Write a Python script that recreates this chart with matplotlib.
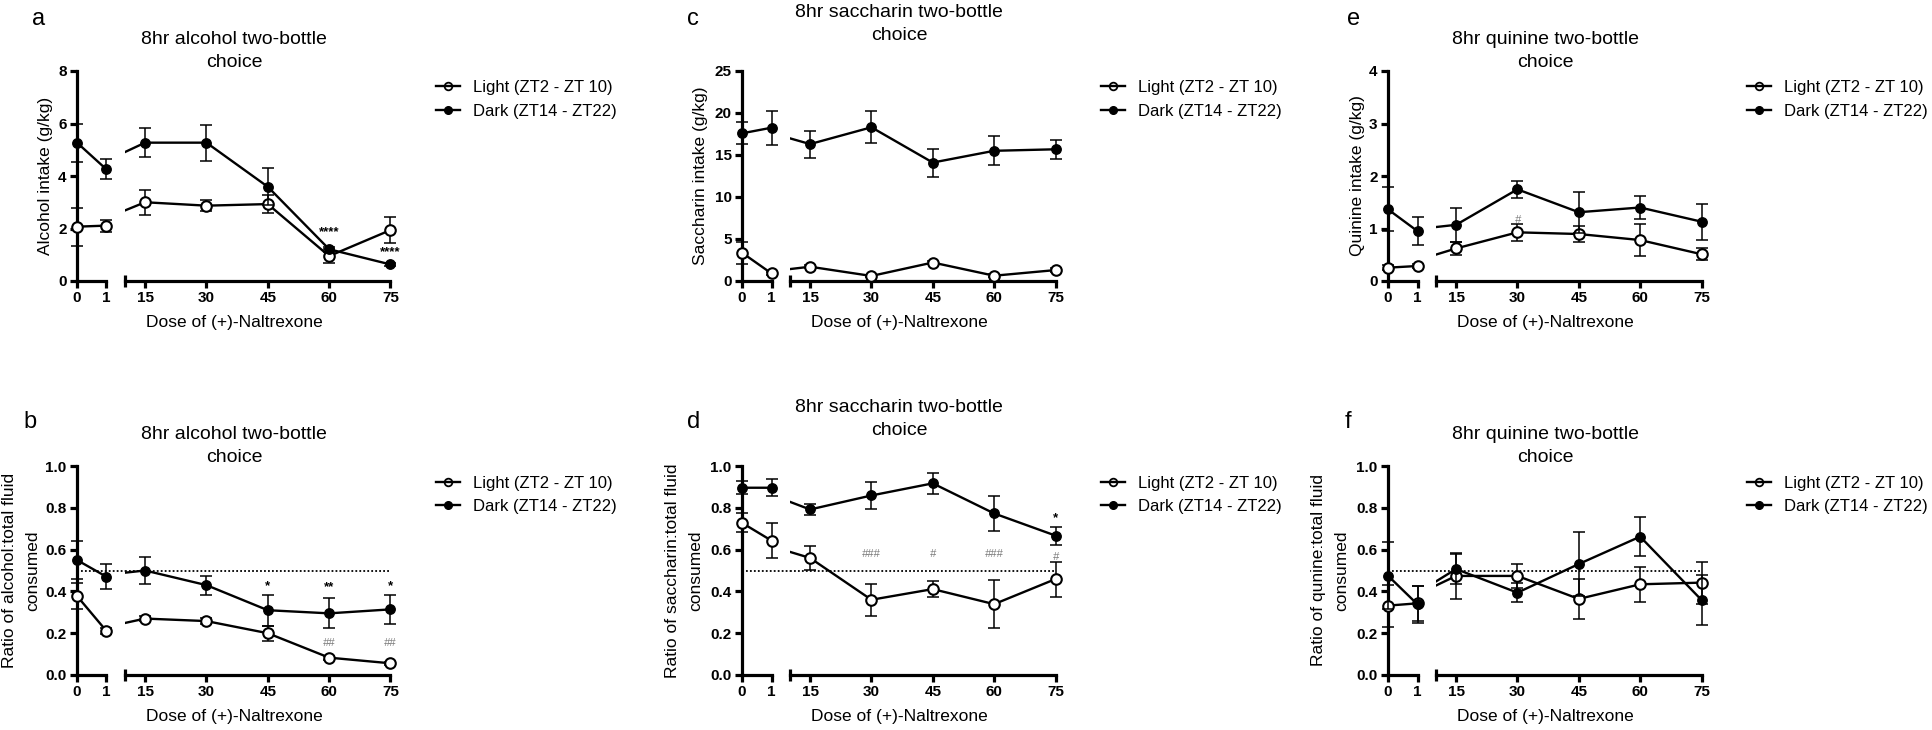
import matplotlib
matplotlib.use('Agg')
import matplotlib.pyplot as plt
from matplotlib.lines import Line2D

plt.rcParams['font.family'] = ['Liberation Sans', 'DejaVu Sans']

W, H = 1932, 730

# ---------------- data ----------------
doses = [0, 1, 15, 30, 45, 60, 75]
dose_labels = ['0', '1', '15', '30', '45', '60', '75']
series_labels = ['Light (ZT2 - ZT 10)', 'Dark (ZT14 - ZT22)']
xlabel_text = 'Dose of (+)-Naltrexone'

# a: alcohol intake (g/kg)
alc_light = [2.07, 2.11, 3.00, 2.87, 2.93, 0.95, 1.94]
alc_light_err = [0.73, 0.23, 0.47, 0.21, 0.35, 0.28, 0.48]
alc_dark = [5.27, 4.25, 5.27, 5.27, 3.59, 1.21, 0.63]
alc_dark_err = [0.73, 0.38, 0.54, 0.68, 0.70, 0.10, 0.05]

# b: ratio alcohol:total fluid
ralc_light = [0.378, 0.21, 0.27, 0.258, 0.20, 0.083, 0.056]
ralc_light_err = [0.06, 0.015, 0.012, 0.015, 0.035, 0.01, 0.008]
ralc_dark = [0.55, 0.47, 0.50, 0.43, 0.31, 0.295, 0.314]
ralc_dark_err = [0.09, 0.06, 0.063, 0.045, 0.075, 0.072, 0.068]

# c: saccharin intake (g/kg)
sac_light = [3.37, 0.9, 1.7, 0.6, 2.2, 0.63, 1.3]
sac_light_err = [1.3, 0.2, 0.2, 0.15, 0.2, 0.15, 0.2]
sac_dark = [17.58, 18.25, 16.3, 18.3, 14.1, 15.5, 15.68]
sac_dark_err = [1.3, 2.0, 1.6, 1.9, 1.67, 1.73, 1.15]

# d: ratio saccharin:total fluid
rsac_light = [0.728, 0.643, 0.56, 0.36, 0.411, 0.339, 0.459]
rsac_light_err = [0.046, 0.082, 0.056, 0.077, 0.038, 0.116, 0.084]
rsac_dark = [0.896, 0.896, 0.792, 0.859, 0.917, 0.773, 0.667]
rsac_dark_err = [0.03, 0.04, 0.025, 0.065, 0.05, 0.082, 0.043]

# e: quinine intake (g/kg)
qui_light = [0.254, 0.286, 0.62, 0.927, 0.895, 0.78, 0.51]
qui_light_err = [0.05, 0.04, 0.13, 0.16, 0.15, 0.30, 0.11]
qui_dark = [1.365, 0.95, 1.07, 1.746, 1.31, 1.40, 1.13]
qui_dark_err = [0.42, 0.26, 0.33, 0.16, 0.39, 0.22, 0.34]

# f: ratio quinine:total fluid
rqui_light = [0.332, 0.343, 0.474, 0.474, 0.364, 0.434, 0.442]
rqui_light_err = [0.10, 0.085, 0.11, 0.056, 0.095, 0.085, 0.10]
rqui_dark = [0.475, 0.338, 0.507, 0.394, 0.531, 0.662, 0.359]
rqui_dark_err = [0.16, 0.09, 0.07, 0.047, 0.155, 0.093, 0.12]

# significance annotations: (text, dose, y, kind)
annot_a = [('****', 60, 1.85, 'star'), ('****', 75, 1.1, 'star')]
annot_b = [('*', 45, 0.425, 'star'), ('**', 60, 0.42, 'star'), ('*', 75, 0.425, 'star'),
           ('##', 60, 0.155, 'hash'), ('##', 75, 0.155, 'hash')]
annot_d = [('*', 75, 0.75, 'star'), ('###', 30, 0.579, 'hash'), ('#', 45, 0.579, 'hash'),
           ('###', 60, 0.579, 'hash'), ('#', 75, 0.566, 'hash')]
annot_e = [('#', 30, 1.16, 'hash')]

panels = [
    dict(letter='a', col=0, row=0, title='8hr alcohol two-bottle\nchoice',
         ylabel='Alcohol intake (g/kg)', light=alc_light, light_err=alc_light_err,
         dark=alc_dark, dark_err=alc_dark_err, yticks=[0, 2, 4, 6, 8], ylim=(0, 8),
         fmt='{:g}', annots=annot_a, dotted=None),
    dict(letter='b', col=0, row=1, title='8hr alcohol two-bottle\nchoice',
         ylabel='Ratio of alcohol:total fluid\nconsumed', light=ralc_light,
         light_err=ralc_light_err, dark=ralc_dark, dark_err=ralc_dark_err,
         yticks=[0, 0.2, 0.4, 0.6, 0.8, 1.0], ylim=(0, 1), fmt='{:.1f}',
         annots=annot_b, dotted=0.5),
    dict(letter='c', col=1, row=0, title='8hr saccharin two-bottle\nchoice',
         ylabel='Saccharin intake (g/kg)', light=sac_light, light_err=sac_light_err,
         dark=sac_dark, dark_err=sac_dark_err, yticks=[0, 5, 10, 15, 20, 25], ylim=(0, 25),
         fmt='{:g}', annots=[], dotted=None),
    dict(letter='d', col=1, row=1, title='8hr saccharin two-bottle\nchoice',
         ylabel='Ratio of saccharin:total fluid\nconsumed', light=rsac_light,
         light_err=rsac_light_err, dark=rsac_dark, dark_err=rsac_dark_err,
         yticks=[0, 0.2, 0.4, 0.6, 0.8, 1.0], ylim=(0, 1), fmt='{:.1f}',
         annots=annot_d, dotted=0.5),
    dict(letter='e', col=2, row=0, title='8hr quinine two-bottle\nchoice',
         ylabel='Quinine intake (g/kg)', light=qui_light, light_err=qui_light_err,
         dark=qui_dark, dark_err=qui_dark_err, yticks=[0, 1, 2, 3, 4], ylim=(0, 4),
         fmt='{:g}', annots=annot_e, dotted=None),
    dict(letter='f', col=2, row=1, title='8hr quinine two-bottle\nchoice',
         ylabel='Ratio of qunine:total fluid\nconsumed', light=rqui_light,
         light_err=rqui_light_err, dark=rqui_dark, dark_err=rqui_dark_err,
         yticks=[0, 0.2, 0.4, 0.6, 0.8, 1.0], ylim=(0, 1), fmt='{:.1f}',
         annots=[], dotted=0.5),
]

# ---------------- layout (pixels) ----------------
COL_X0 = [77, 742, 1388]
ROWS = [(71, 281), (466, 675)]
LEFT_W = 29.5
RIGHT_START = 47.6
PLOT_W = 313.5
RIGHT_XMIN = 10
TITLE_Y = {'a': 51, 'b': 446, 'c': 24, 'd': 419, 'e': 51, 'f': 446}
LETTER_POS = {'a': (32, 25), 'b': (23, 428), 'c': (687, 25), 'd': (687, 428),
              'e': (1347, 25), 'f': (1345, 428)}
YLABEL_OFF = {'a': 24, 'b': 37, 'c': 34, 'd': 39, 'e': 23, 'f': 39}
LEGEND_Y = [99.5, 495]

fig = plt.figure(figsize=(W / 100, H / 100), dpi=100)


def add_axes_px(x0, x1, top, bottom):
    return fig.add_axes([x0 / W, 1 - bottom / H, (x1 - x0) / W, (bottom - top) / H])


LW_SPINE = 2.3
LW_DATA = 1.7


def style_axis(ax):
    for s in ['top', 'right']:
        ax.spines[s].set_visible(False)
    for s in ['left', 'bottom']:
        ax.spines[s].set_linewidth(LW_SPINE)
    ax.tick_params(which='major', direction='out', length=5, width=LW_SPINE,
                   labelsize=11, pad=2.5, color='k')
    ax.tick_params(which='minor', direction='inout', length=9, width=LW_SPINE, color='k')
    ax.patch.set_alpha(0)


def draw_series(axL, axR, ys, errs, filled, z):
    for ax in (axL, axR):
        ax.plot(doses, ys, color='k', lw=LW_DATA, zorder=z, clip_on=True,
                solid_joinstyle='miter')
    left_idx = [i for i, d in enumerate(doses) if d <= 1]
    right_idx = [i for i, d in enumerate(doses) if d >= 15]
    for ax, idx in ((axL, left_idx), (axR, right_idx)):
        xs = [doses[i] for i in idx]
        yv = [ys[i] for i in idx]
        ev = [errs[i] for i in idx]
        eb = ax.errorbar(xs, yv, yerr=ev, fmt='none', ecolor='k', elinewidth=1.1,
                         capsize=4, capthick=1.1, zorder=z)
        for art in eb.get_children():
            art.set_clip_on(False)
        if filled:
            ax.plot(xs, yv, 'o', ms=6.8, mfc='k', mec='k', mew=1.0,
                    clip_on=False, zorder=z + 1)
        else:
            ax.plot(xs, yv, 'o', ms=7.6, mfc='white', mec='k', mew=1.5,
                    clip_on=False, zorder=z + 1)


for p in panels:
    X0 = COL_X0[p['col']]
    T, B = ROWS[p['row']]
    axL = add_axes_px(X0, X0 + LEFT_W, T, B)
    axR = add_axes_px(X0 + RIGHT_START, X0 + PLOT_W, T, B)
    for ax in (axL, axR):
        style_axis(ax)
        ax.set_ylim(*p['ylim'])
    axL.set_xlim(0, 1)
    axR.set_xlim(RIGHT_XMIN, 75)
    axR.spines['left'].set_visible(False)
    axR.tick_params(axis='y', which='both', left=False, labelleft=False)

    axL.set_yticks(p['yticks'])
    axL.set_yticklabels([p['fmt'].format(v) for v in p['yticks']], fontweight='bold')
    axL.set_xticks(doses[:2])
    axL.set_xticklabels(dose_labels[:2], fontweight='bold')
    axL.set_xticks([1], minor=True)
    axR.set_xticks(doses[2:])
    axR.set_xticklabels(dose_labels[2:], fontweight='bold')
    axR.set_xticks([RIGHT_XMIN, 75], minor=True)
    axL.tick_params(axis='y', which='minor', left=False)
    axR.tick_params(axis='y', which='minor', left=False)

    if p['dotted'] is not None:
        axL.axhline(p['dotted'], xmin=0, xmax=RIGHT_START / LEFT_W, color='k',
                    lw=1.3, ls=(0, (1, 1.2)), clip_on=False, zorder=1)
        axR.axhline(p['dotted'], color='k', lw=1.3, ls=(0, (1, 1.2)), zorder=1)

    draw_series(axL, axR, p['light'], p['light_err'], False, 3)
    draw_series(axL, axR, p['dark'], p['dark_err'], True, 5)

    for txt, d, y, kind in p['annots']:
        if kind == 'star':
            axR.text(d, y, txt, ha='center', va='center', fontsize=9.5, color='k',
                     fontweight='bold', zorder=8)
        else:
            axR.text(d, y, txt, ha='center', va='center', fontsize=8, color='#7a7a7a',
                     style='italic', zorder=8)

    # y label
    axL.yaxis.set_label_coords(-YLABEL_OFF[p['letter']] / LEFT_W, 0.5)
    axL.set_ylabel(p['ylabel'], fontsize=12.5, linespacing=1.65)

    # x label
    fig.text((X0 + 157) / W, 1 - (B + 41) / H, xlabel_text, ha='center', va='center',
             fontsize=12.5)
    # title
    fig.text((X0 + 157) / W, 1 - TITLE_Y[p['letter']] / H, p['title'], ha='center',
             va='center', fontsize=14, linespacing=1.5)
    # letter
    lx, ly = LETTER_POS[p['letter']]
    fig.text(lx / W, 1 - ly / H, p['letter'], ha='left', va='baseline', fontsize=17)

    # legend
    handles = [
        Line2D([], [], color='k', lw=LW_DATA, marker='o', ms=5.5, mfc='none', mec='k', mew=1.3),
        Line2D([], [], color='k', lw=LW_DATA, marker='o', ms=5.5, mfc='k', mec='k'),
    ]
    fs = 12
    hl, htp = 1.4, 0.8
    fs_px = fs * 100 / 72
    text_left = X0 + 396
    leg_left = text_left - (hl + htp) * fs_px
    fig.legend(handles, series_labels, loc='center left',
               bbox_to_anchor=(leg_left / W, 1 - LEGEND_Y[p['row']] / H),
               frameon=False, fontsize=fs, handlelength=hl, handletextpad=htp,
               borderpad=0, borderaxespad=0, labelspacing=0.5)

fig.savefig('out.png', dpi=100, facecolor='white')
